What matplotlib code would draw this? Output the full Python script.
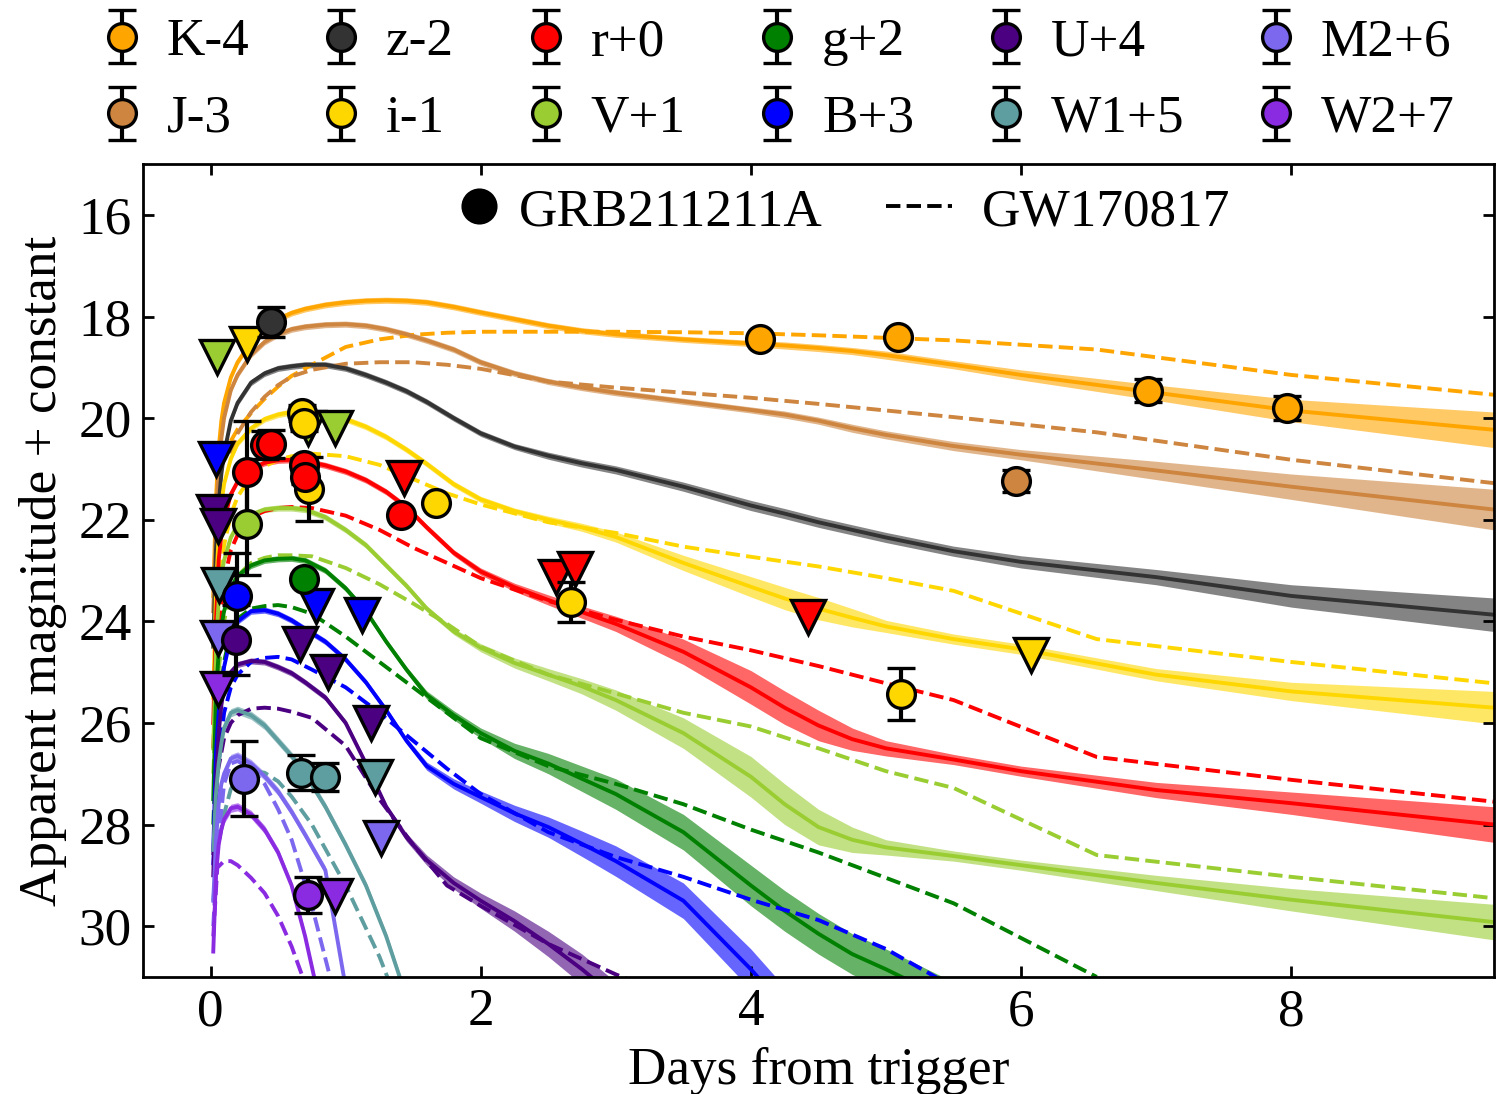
import matplotlib
matplotlib.use("Agg")
import matplotlib.pyplot as plt
from matplotlib.lines import Line2D
from matplotlib.legend_handler import HandlerLine2D
import numpy as np

plt.rcParams["font.family"] = "serif"
plt.rcParams["font.serif"] = ["Liberation Serif", "DejaVu Serif"]
plt.rcParams["mathtext.fontset"] = "stix"

TAM_FONTE = 19.2
nan = float("nan")

# grade de tempo do modelo (dias) e da curva do GW170817
t_modelo = [0.02, 0.04, 0.06, 0.08, 0.1, 0.15, 0.2, 0.3, 0.4, 0.5,
            0.6, 0.7, 0.85, 1.0, 1.15, 1.3, 1.45, 1.6, 1.8, 2.0,
            2.25, 2.5, 2.75, 3.0, 3.5, 4.0, 4.25, 4.5, 4.75, 5.0,
            5.5, 6.0, 7.0, 8.0, 9.5]
t_gw = [0.02, 0.05, 0.1, 0.15, 0.2, 0.3, 0.4, 0.5, 0.6, 0.75,
        1.0, 1.25, 1.5, 1.75, 2.0, 2.5, 3.0, 3.5, 4.0, 4.5,
        5.0, 5.5, 6.56, 8.0, 9.5]

# ---- K-4
K_modelo = [23.5, 21.6, 20.6, 20.05, 19.7, 19.2, 18.9, 18.5, 18.25, 18.05,
            17.93, 17.85, 17.77, 17.72, 17.69, 17.68, 17.69, 17.72, 17.81, 17.92,
            18.05, 18.18, 18.28, 18.35, 18.45, 18.53, 18.57, 18.62, 18.68, 18.76,
            18.95, 19.15, 19.5, 19.85, 20.23]
K_faixa = [0.06] * 26 + [0.07, 0.07, 0.07, 0.08, 0.08, 0.1, 0.15, 0.22, 0.35]
K_gw = [nan, nan, nan, 20.45, 20.22, 19.9, 19.62, 19.38, 19.17, 18.95,
        18.6, 18.45, 18.36, 18.32, 18.3, 18.3, 18.3, 18.31, 18.33, 18.37,
        18.42, 18.47, 18.65, 19.15, 19.54]
K_det_t = [4.07, 5.09, 6.94, 7.97]
K_det_mag = [18.44, 18.40, 19.46, 19.80]
K_det_err = [0.05, 0.05, 0.23, 0.23]
K_lim_t = []
K_lim_mag = []

# ---- J-3
J_modelo = [23.8, 22.0, 21.0, 20.4, 20.0, 19.45, 19.15, 18.75, 18.5, 18.35,
            18.25, 18.2, 18.16, 18.15, 18.18, 18.25, 18.35, 18.47, 18.65, 18.9,
            19.12, 19.28, 19.4, 19.5, 19.67, 19.84, 19.93, 20.05, 20.2, 20.33,
            20.55, 20.72, 21.03, 21.35, 21.8]
J_faixa = [0.06] * 26 + [0.07, 0.07, 0.08, 0.08, 0.09, 0.1, 0.18, 0.25, 0.4]
J_gw = [nan, nan, nan, 20.7, 20.3, 19.88, 19.58, 19.35, 19.18, 19.05,
        18.93, 18.9, 18.9, 18.95, 19.03, 19.28, 19.4, 19.5, 19.6, 19.72,
        19.85, 19.98, 20.28, 20.82, 21.28]
J_det_t = [5.96]
J_det_mag = [21.24]
J_det_err = [0.22]
J_lim_t = []
J_lim_mag = []

# ---- z-2
z_modelo = [24.5, 22.6, 21.7, 21.1, 20.7, 20.05, 19.7, 19.3, 19.12, 19.02,
            18.98, 18.95, 18.95, 19.02, 19.15, 19.3, 19.47, 19.68, 20.0, 20.3,
            20.56, 20.74, 20.89, 21.02, 21.35, 21.72, 21.88, 22.05, 22.2, 22.35,
            22.62, 22.83, 23.13, 23.5, 23.87]
z_faixa = [0.06] * 21 + [0.07, 0.075, 0.08, 0.09, 0.1, 0.1, 0.1, 0.1, 0.1, 0.1, 0.12, 0.15, 0.22, 0.33]
z_det_t = [0.45]
z_det_mag = [18.11]
z_det_err = [0.3]
z_lim_t = []
z_lim_mag = []

# ---- i-1
i_modelo = [25.5, 23.4, 22.3, 21.7, 21.3, 20.8, 20.5, 20.2, 20.02, 19.93,
            19.88, 19.88, 19.92, 20.02, 20.17, 20.37, 20.62, 20.9, 21.3, 21.6,
            21.83, 22.0, 22.15, 22.34, 22.85, 23.32, 23.55, 23.75, 23.93, 24.1,
            24.35, 24.55, 25.05, 25.38, 25.7]
i_faixa = [0.06] * 21 + [0.07, 0.08, 0.1, 0.15, 0.2, 0.22, 0.22, 0.18, 0.12, 0.1, 0.1, 0.12, 0.18, 0.32]
i_gw = [25.5, 23.7, 22.5, 21.9, 21.55, 21.15, 20.95, 20.82, 20.75, 20.7,
        20.75, 20.92, 21.2, 21.48, 21.7, 22.05, 22.26, 22.53, 22.73, 22.92,
        23.15, 23.4, 24.35, 24.8, 25.22]
i_det_t = [0.675, 0.69, 0.73, 1.67, 2.67, 5.11]
i_det_mag = [19.9, 20.1, 21.4, 21.67, 23.62, 25.43]
i_det_err = [0.15, 0.15, 0.63, 0.05, 0.4, 0.52]
i_lim_t = [0.27, 6.07]
i_lim_mag = [18.55, 24.66]

# ---- r+0
r_modelo = [26.0, 24.0, 22.8, 22.3, 22.0, 21.5, 21.25, 21.0, 20.88, 20.83,
            20.82, 20.85, 20.93, 21.05, 21.22, 21.45, 21.75, 22.15, 22.65, 23.02,
            23.33, 23.58, 23.82, 24.05, 24.6, 25.3, 25.7, 26.05, 26.32, 26.5,
            26.72, 26.95, 27.32, 27.58, 28.0]
r_faixa = [0.06] * 19 + [0.07, 0.08, 0.1, 0.12, 0.15, 0.25, 0.33, 0.33, 0.3, 0.22, 0.15, 0.1, 0.1, 0.15, 0.22, 0.35]
r_gw = [26.5, 24.5, 23.2, 22.6, 22.3, 21.95, 21.83, 21.77, 21.75, 21.77,
        21.92, 22.2, 22.55, 22.85, 23.15, 23.6, 23.97, 24.3, 24.57, 24.88,
        25.22, 25.55, 26.67, 27.12, 27.55]
r_det_t = [0.27, 0.40, 0.45, 0.69, 0.70, 1.41]
r_det_mag = [21.06, 20.53, 20.51, 20.92, 21.15, 21.9]
r_det_err = [1.0, 0.28, 0.28, 0.14, 0.14, 0.05]
r_lim_t = [1.43, 2.56, 2.70, 4.42]
r_lim_mag = [21.18, 23.13, 22.97, 23.92]

# ---- V+1
V_modelo = [26.5, 24.5, 23.6, 23.1, 22.8, 22.35, 22.1, 21.9, 21.8, 21.77,
            21.77, 21.8, 21.95, 22.2, 22.5, 22.9, 23.3, 23.75, 24.2, 24.52,
            24.82, 25.05, 25.28, 25.55, 26.2, 27.06, 27.6, 28.05, 28.3, 28.45,
            28.62, 28.8, 29.15, 29.48, 29.92]
V_faixa = [0.06] * 19 + [0.08, 0.1, 0.12, 0.15, 0.2, 0.3, 0.4, 0.4, 0.35, 0.25, 0.15, 0.1, 0.1, 0.15, 0.22, 0.35]
V_gw = [27.0, 25.2, 24.0, 23.4, 23.1, 22.85, 22.75, 22.7, 22.7, 22.72,
        22.95, 23.27, 23.65, 24.05, 24.5, 25.05, 25.42, 25.8, 26.07, 26.5,
        26.95, 27.28, 28.6, 29.03, 29.45]
V_det_t = [0.27]
V_det_mag = [22.08]
V_det_err = [1.0]
V_lim_t = [0.05, 0.72, 0.92]
V_lim_mag = [18.8, 20.2, 20.2]

# ---- g+2
g_modelo = [27.5, 25.5, 24.6, 24.1, 23.8, 23.35, 23.1, 22.9, 22.8, 22.77,
            22.76, 22.8, 23.0, 23.35, 23.8, 24.4, 24.95, 25.45, 25.85, 26.2,
            26.55, 26.8, 27.1, 27.4, 28.15, 29.2, 29.7, 30.15, 30.55, 30.85,
            31.5, nan, nan, nan, nan]
g_faixa = [0.06] * 17 + [0.08, 0.09, 0.1, 0.15, 0.2, 0.25, 0.3, 0.35] + [0.4] * 10
g_gw = [28.0, 26.0, 24.8, 24.2, 23.95, 23.75, 23.7, 23.68, 23.72, 23.85,
        24.3, 24.8, 25.3, 25.8, 26.3, 26.85, 27.2, 27.6, 28.1, 28.55,
        29.05, 29.55, 31.0, nan, nan]
g_det_t = [0.69]
g_det_mag = [23.17]
g_det_err = [0.1]
g_lim_t = []
g_lim_mag = []

# ---- B+3
B_modelo = [28.5, 26.6, 25.8, 25.3, 24.9, 24.3, 24.0, 23.8, 23.78, 23.85,
            23.98, 24.15, 24.4, 24.75, 25.2, 25.75, 26.35, 26.85, 27.2, 27.46,
            27.78, 28.05, 28.38, 28.72, 29.5, 30.85, 31.6] + [nan] * 8
B_faixa = [0.06] * 17 + [0.08, 0.1, 0.12, 0.16, 0.2, 0.25, 0.3, 0.35, 0.4] + [0.4] * 9
B_gw = [28.8, 27.0, 25.8, 25.3, 25.05, 24.8, 24.72, 24.7, 24.75, 24.95,
        25.3, 25.8, 26.35, 26.9, 27.4, 28.15, 28.64, 29.03, 29.48, 29.88,
        30.45, 31.2, nan, nan, nan]
B_det_t = [0.195]
B_det_mag = [23.5]
B_det_err = [0.85]
B_lim_t = [0.04, 0.78, 1.12]
B_lim_mag = [20.8, 23.7, 23.87]

# ---- U+4
U_modelo = [29.0, 27.2, 26.2, 25.65, 25.3, 25.0, 24.85, 24.78, 24.8, 24.9,
            25.02, 25.2, 25.5, 26.0, 26.8, 27.65, 28.25, 28.7, 29.15, 29.5,
            29.9, 30.35, 30.85, 31.4] + [nan] * 11
U_faixa = [0.06] * 16 + [0.08, 0.1, 0.12, 0.15, 0.2, 0.25, 0.3] + [0.3] * 12
U_gw = [28.6, 27.0, 26.3, 26.0, 25.85, 25.72, 25.7, 25.72, 25.78, 25.9,
        26.45, 27.5, 28.4, 29.2, 29.6, 30.35, 30.95, 31.5] + [nan] * 7
U_det_t = [0.19]
U_det_mag = [24.37]
U_det_err = [0.69]
U_lim_t = [0.025, 0.055, 0.66, 0.87, 1.19]
U_lim_mag = [21.85, 22.12, 24.45, 25.0, 26.0]

# ---- W1+5
W1_modelo = [28.5, 27.4, 26.8, 26.4, 26.1, 25.8, 25.75, 25.85, 26.05, 26.35,
             26.65, 27.0, 27.65, 28.4, 29.2, 30.2, 31.4] + [nan] * 18
W1_faixa = [0.08] * 35
W1_gw = [29.5, 28.5, 27.8, 27.3, 27.1, 26.95, 26.98, 27.15, 27.45, 28.0,
         29.2, 30.6, 32.3] + [nan] * 12
W1_det_t = [0.67, 0.85]
W1_det_mag = [26.98, 27.06]
W1_det_err = [0.35, 0.28]
W1_lim_t = [0.06, 1.22]
W1_lim_mag = [23.28, 27.07]

# ---- M2+6
M2_modelo = [29.5, 28.3, 27.6, 27.2, 27.0, 26.7, 26.65, 26.8, 27.05, 27.35,
             27.75, 28.2, 28.9, 31.2] + [nan] * 21
M2_faixa = [0.08] * 35
M2_gw = [30.0, 28.5, 27.2, 26.8, 26.75, 26.9, 27.2, 27.7, 28.3, 29.6,
         32.2] + [nan] * 14
M2_det_t = [0.25]
M2_det_mag = [27.1]
M2_det_err = [0.74]
M2_lim_t = [0.055, 1.26]
M2_lim_mag = [24.33, 28.27]

# ---- W2+7
W2_modelo = [30.5, 29.0, 28.4, 28.1, 27.9, 27.68, 27.65, 27.8, 28.1, 28.55,
             29.2, 30.2, 32.0] + [nan] * 22
W2_faixa = [0.08] * 35
W2_gw = [30.2, 28.85, 28.72, 28.72, 28.8, 29.05, 29.35, 29.8, 30.4, 31.5] + [nan] * 15
W2_det_t = [0.72]
W2_det_mag = [29.39]
W2_det_err = [0.35]
W2_lim_t = [0.055, 0.92]
W2_lim_mag = [25.33, 29.4]

# tabela: rotulo, cor, modelo, faixa, gw, deteccoes, limites
bandas = [
    ("K-4", "orange", K_modelo, K_faixa, K_gw, K_det_t, K_det_mag, K_det_err, K_lim_t, K_lim_mag),
    ("J-3", "peru", J_modelo, J_faixa, J_gw, J_det_t, J_det_mag, J_det_err, J_lim_t, J_lim_mag),
    ("z-2", "#333333", z_modelo, z_faixa, None, z_det_t, z_det_mag, z_det_err, z_lim_t, z_lim_mag),
    ("i-1", "gold", i_modelo, i_faixa, i_gw, i_det_t, i_det_mag, i_det_err, i_lim_t, i_lim_mag),
    ("r+0", "red", r_modelo, r_faixa, r_gw, r_det_t, r_det_mag, r_det_err, r_lim_t, r_lim_mag),
    ("V+1", "yellowgreen", V_modelo, V_faixa, V_gw, V_det_t, V_det_mag, V_det_err, V_lim_t, V_lim_mag),
    ("g+2", "green", g_modelo, g_faixa, g_gw, g_det_t, g_det_mag, g_det_err, g_lim_t, g_lim_mag),
    ("B+3", "blue", B_modelo, B_faixa, B_gw, B_det_t, B_det_mag, B_det_err, B_lim_t, B_lim_mag),
    ("U+4", "indigo", U_modelo, U_faixa, U_gw, U_det_t, U_det_mag, U_det_err, U_lim_t, U_lim_mag),
    ("W1+5", "cadetblue", W1_modelo, W1_faixa, W1_gw, W1_det_t, W1_det_mag, W1_det_err, W1_lim_t, W1_lim_mag),
    ("M2+6", "mediumslateblue", M2_modelo, M2_faixa, M2_gw, M2_det_t, M2_det_mag, M2_det_err, M2_lim_t, M2_lim_mag),
    ("W2+7", "blueviolet", W2_modelo, W2_faixa, W2_gw, W2_det_t, W2_det_mag, W2_det_err, W2_lim_t, W2_lim_mag),
]


class HandlerCirculo(HandlerLine2D):
    # coloca o marcador perto do fim do handle, como na figura original
    def create_artists(self, legend, orig_handle, xdescent, ydescent, width, height, fontsize, trans):
        artistas = super().create_artists(legend, orig_handle, xdescent, ydescent,
                                          width, height, fontsize, trans)
        x = -xdescent + width - 0.2 * fontsize
        for a in artistas:
            a.set_xdata(np.full(len(a.get_xdata()), x))
        return artistas


def desenhar_banda(ax, rotulo, cor, modelo, faixa, gw, det_t, det_mag, det_err, lim_t, lim_mag):
    tm = np.array(t_modelo)
    m = np.array(modelo)
    s = np.array(faixa)
    ax.fill_between(tm, m - s, m + s, color=cor, alpha=0.6, lw=0, zorder=1)
    ax.plot(tm, m, color=cor, lw=1.4, zorder=2)
    if gw is not None:
        ax.plot(t_gw, gw, "--", color=cor, lw=1.4, zorder=2)
    # limites superiores (triangulos)
    if lim_t:
        ax.plot(lim_t, lim_mag, "v", color=cor, mec="k", mew=1.2, ms=12, ls="none", zorder=4)
    # deteccoes com barra de erro
    h = ax.errorbar(det_t, det_mag, yerr=det_err, fmt="o", color=cor, mec="k", mew=1.2, ms=10,
                    ecolor="k", elinewidth=1.5, capsize=5, capthick=1.5, zorder=5, label=rotulo)
    return h


def main():
    fig = plt.figure(figsize=(7.48, 5.47), dpi=200)
    ax = fig.add_axes([0.0956, 0.107, 0.903, 0.743])

    handles = []
    for b in bandas:
        handles.append(desenhar_banda(ax, *b))

    ax.set_xlim(-0.5, 9.5)
    ax.set_ylim(31, 15)
    ax.set_xticks([0, 2, 4, 6, 8])
    ax.set_yticks([16, 18, 20, 22, 24, 26, 28, 30])
    ax.tick_params(direction="in", top=True, right=True, length=4, width=1,
                   labelsize=TAM_FONTE, pad=4)
    for sp in ax.spines.values():
        sp.set_linewidth(1)
    ax.set_xlabel("Days from trigger", fontsize=TAM_FONTE, labelpad=4)
    ax.set_ylabel("Apparent magnitude + constant", fontsize=TAM_FONTE, labelpad=4)

    # legenda interna: dados x GW170817
    circulo = Line2D([], [], marker="o", color="k", ls="none", ms=12)
    tracejado = Line2D([], [], color="k", ls="--", lw=1.4)
    ax.legend([circulo, tracejado], ["GRB211211A", "GW170817"], loc="upper center", ncol=2,
              frameon=False, fontsize=TAM_FONTE, handlelength=1.25, handletextpad=0.56,
              columnspacing=1.18, bbox_to_anchor=(0.506, 1.03),
              handler_map={circulo: HandlerCirculo()})

    # legenda das bandas acima do grafico
    fig.legend(handles, [b[0] for b in bandas], loc="upper center", ncol=6, frameon=False,
               fontsize=TAM_FONTE, handlelength=1.0, handletextpad=0.34, columnspacing=1.22,
               labelspacing=0.53, borderaxespad=0.1, bbox_to_anchor=(0.518, 1.008))

    fig.savefig("out.png", dpi=200)
    plt.close(fig)


if __name__ == "__main__":
    main()
